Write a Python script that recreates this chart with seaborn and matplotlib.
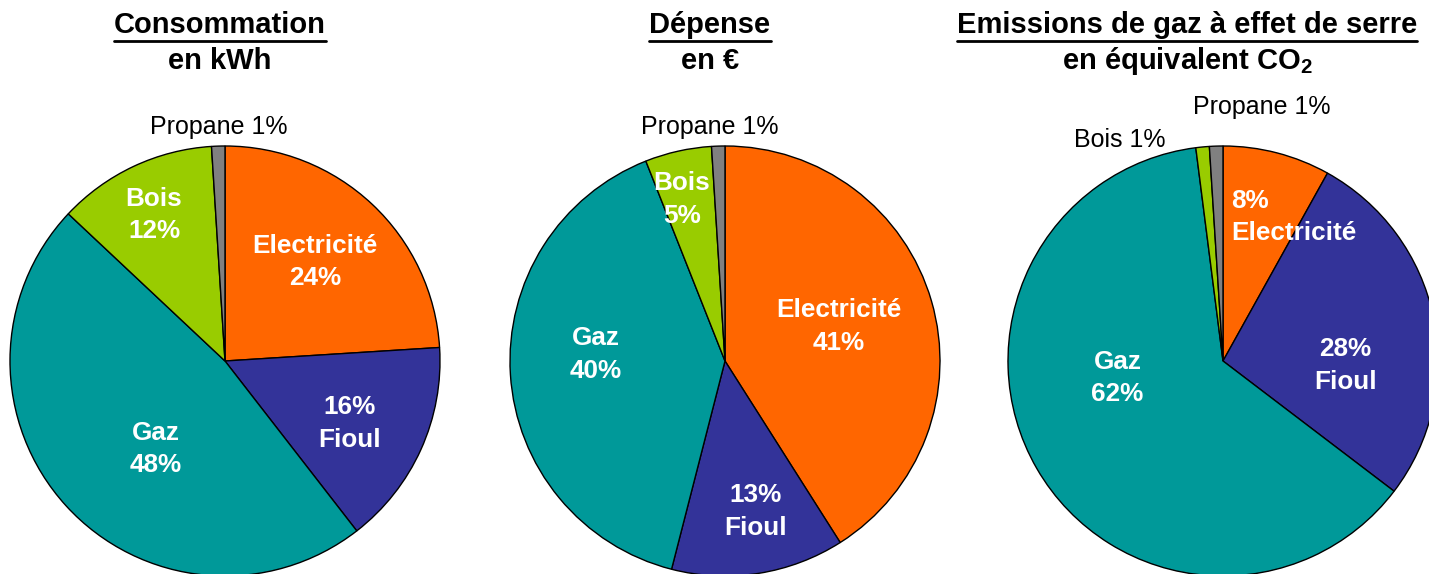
import matplotlib
matplotlib.use("Agg")
import matplotlib.pyplot as plt
from matplotlib.lines import Line2D
import seaborn as sns

sns.set_theme(style="white")
plt.rcParams['font.family'] = ['Liberation Sans', 'DejaVu Sans']
plt.rcParams['mathtext.fontset'] = 'custom'
plt.rcParams['mathtext.rm'] = 'Liberation Sans'
plt.rcParams['mathtext.bf'] = 'Liberation Sans:bold'

# ---- data ----
categories = ["Electricité", "Fioul", "Gaz", "Bois", "Propane"]
consommation = [24, 15.5, 47.5, 12, 1]
depense = [41, 13, 40, 5, 1]
emissions = [8, 27, 62, 1, 1]
conso_labels = ["Electricité\n24%", "16%\nFioul", "Gaz\n48%", "Bois\n12%", "Propane 1%"]
depense_labels = ["Electricité\n41%", "13%\nFioul", "Gaz\n40%", "Bois\n5%", "Propane 1%"]
emis_labels = ["8%\nElectricité", "28%\nFioul", "Gaz\n62%", "Bois 1%", "Propane 1%"]
titles = [("Consommation", "en kWh"),
          ("Dépense", "en €"),
          ("Emissions de gaz à effet de serre", r"en équivalent CO$_{\mathbf{2}}$")]

# ---- style / layout ----
colors = ["#FF6600", "#333399", "#009999", "#99CC00", "#808080"]
W, H = 1429, 574
R = 215
centers = [(225, 361), (725, 361), (1223, 361)]
title_x = [220, 710, 1187]
label_pos = [
    [(0.42, 0.46), (0.58, -0.29), (-0.32, -0.41), (-0.33, 0.68), (-0.03, 1.09)],
    [(0.53, 0.16), (0.14, -0.70), (-0.60, 0.03), (-0.20, 0.75), (-0.07, 1.09)],
    [(0.04, 0.67), (0.57, -0.02), (-0.49, -0.08), (-0.48, 1.03), (0.18, 1.18)],
]
label_ha = [
    ["center"] * 5,
    ["center"] * 5,
    ["left", "center", "center", "center", "center"],
]
inside = [[True, True, True, True, False],
          [True, True, True, True, False],
          [True, True, True, False, False]]

fig = plt.figure(figsize=(W / 100, H / 100), dpi=100)
fig.patch.set_facecolor("white")

datasets = [consommation, depense, emissions]
labelsets = [conso_labels, depense_labels, emis_labels]

for i, (vals, labs) in enumerate(zip(datasets, labelsets)):
    cx, cy = centers[i]
    ax = fig.add_axes([(cx - R) / W, (H - cy - R) / H, 2 * R / W, 2 * R / H])
    ax.pie(vals, colors=colors, startangle=90, counterclock=False, radius=1,
           wedgeprops=dict(edgecolor="black", linewidth=1.0))
    ax.set_xlim(-1, 1)
    ax.set_ylim(-1, 1)
    ax.set_aspect("equal")
    ax.axis("off")
    for j, lab in enumerate(labs):
        x, y = label_pos[i][j]
        if inside[i][j]:
            ax.text(x, y, lab, ha=label_ha[i][j], va="center", color="white",
                    fontsize=18.8, fontweight="bold", linespacing=1.45,
                    multialignment=label_ha[i][j])
        else:
            ax.text(x, y, lab, ha=label_ha[i][j], va="center", color="black",
                    fontsize=18)

title_texts = []
for i, (t1, t2) in enumerate(titles):
    tt = fig.text(title_x[i] / W, 1 - 25 / H, t1, ha="center", va="center",
                  fontsize=21, fontweight="bold", color="black")
    fig.text(title_x[i] / W, 1 - 61 / H, t2, ha="center", va="center",
             fontsize=21, fontweight="bold", color="black")
    title_texts.append(tt)

fig.canvas.draw()
renderer = fig.canvas.get_renderer()
for tt in title_texts:
    bb = tt.get_window_extent(renderer)
    yline = (H - 40.5) / H
    fig.add_artist(Line2D([bb.x0 / W, bb.x1 / W], [yline, yline],
                          transform=fig.transFigure, color="black", linewidth=2))

fig.savefig("out.png", dpi=100, facecolor="white")
